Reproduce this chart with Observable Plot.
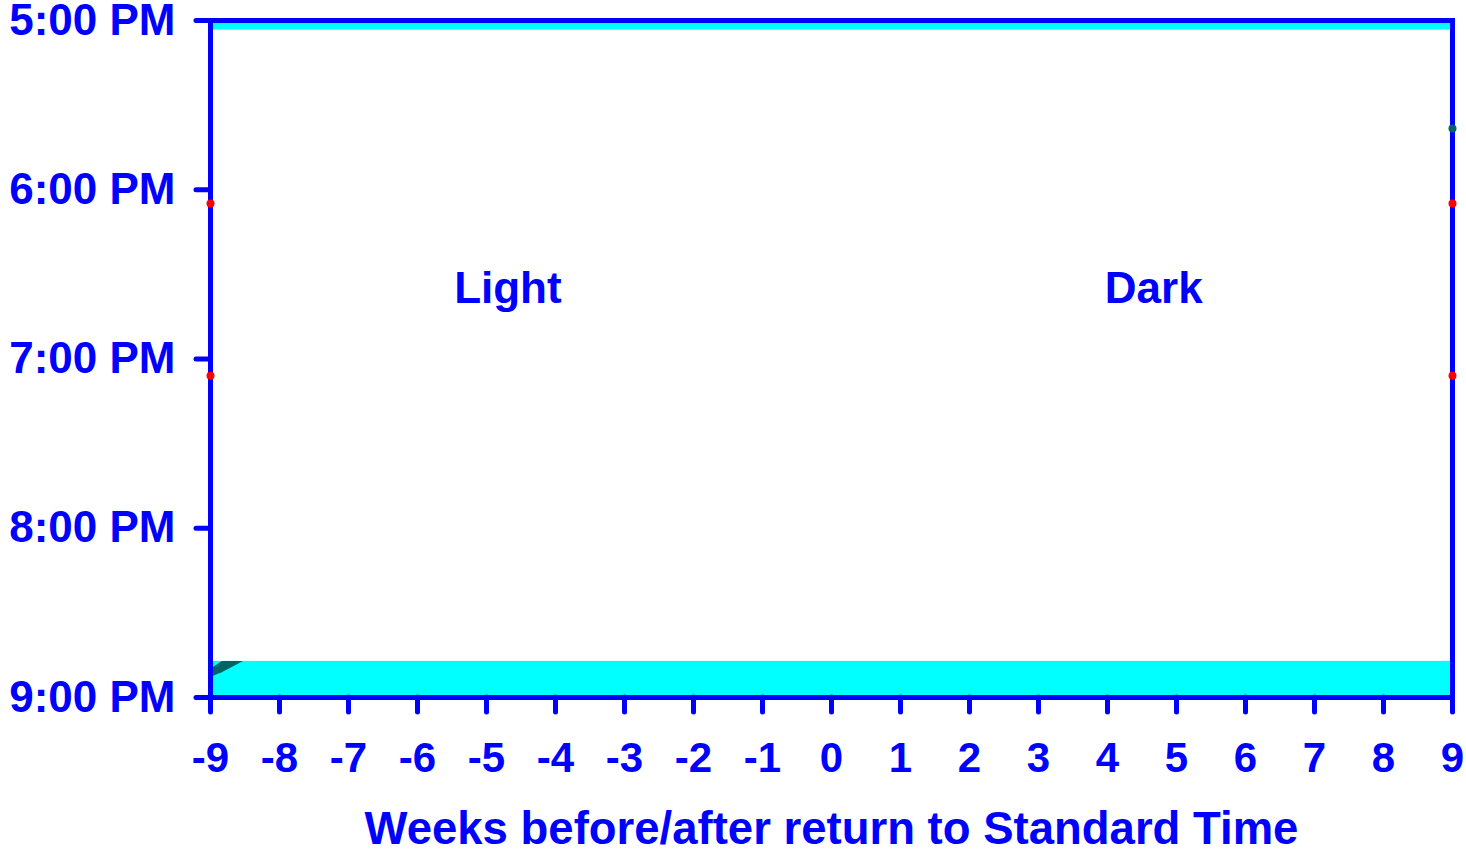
<!DOCTYPE html>
<html>
<head>
<meta charset="utf-8">
<script src="https://cdn.jsdelivr.net/npm/d3@7"></script>
<script src="https://cdn.jsdelivr.net/npm/@observablehq/plot@0.6"></script>
<style>
  html, body { margin: 0; padding: 0; background: #ffffff; }
  #chart { width: 1466px; height: 853px; }
</style>
</head>
<body>
<div id="chart"></div>
<script>
// ---- Data (y values are minutes after 5:00 PM) ----
const weekTicks = [-9, -8, -7, -6, -5, -4, -3, -2, -1, 0, 1, 2, 3, 4, 5, 6, 7, 8, 9];
const timeTicks = [0, 60, 120, 180, 240];
const timeTickLabels = ["5:00 PM", "6:00 PM", "7:00 PM", "8:00 PM", "9:00 PM"];

// cyan bands
const bandX1 = [-9, -9, 8.97];
const bandX2 = [9, 9, 9];
const bandY1 = [0, 227.2, 0];
const bandY2 = [3.4, 240, 240];

// dark teal line segment at lower left (upper and lower edge)
const segWeek = [-9, -8.83, -8.52];
const segTop = [230.1, 227.2, 227.2];
const segBottom = [232.9, 231.2, 227.2];

// edge markers
const markerWeek = [-9, -9, 9, 9, 9];
const markerTime = [64.9, 125.9, 64.9, 125.9, 38.3];
const markerKind = ["red", "red", "red", "red", "teal"];

// labels
const labelText = ["Light", "Dark"];
const labelWeek = [-4.69, 4.67];
const labelTime = [95.2, 95.2];

const BLUE = "#0000ff";
const CYAN = "#00ffff";
const TEAL = "#006464";
const RED = "#ff0000";
const FONT = "'Liberation Sans', Arial, Helvetica, sans-serif";

const bands = bandX1.map((d, i) => ({x1: d, x2: bandX2[i], y1: bandY1[i], y2: bandY2[i]}));
const seg = segWeek.map((d, i) => ({x: d, y1: segTop[i], y2: segBottom[i]}));
const markers = markerWeek.map((d, i) => ({x: d, y: markerTime[i], k: markerKind[i]}));
const labels = labelText.map((d, i) => ({t: d, x: labelWeek[i], y: labelTime[i]}));

const chart = Plot.plot({
  width: 1466,
  height: 853,
  marginLeft: 210,
  marginRight: 14,
  marginTop: 20,
  marginBottom: 156,
  style: {fontFamily: FONT, fontWeight: "bold", fontSize: "42px", color: BLUE, background: "#ffffff", overflow: "visible"},
  x: {domain: [-9, 9]},
  y: {domain: [240, 0]},
  marks: [
    Plot.rect(bands, {x1: "x1", x2: "x2", y1: "y1", y2: "y2", fill: CYAN}),
    Plot.areaY(seg, {x: "x", y1: "y1", y2: "y2", fill: TEAL}),
    Plot.frame({stroke: BLUE, strokeWidth: 5}),
    Plot.axisX({
      ticks: weekTicks, tickSize: 15, tickPadding: 30, label: null,
      color: BLUE, strokeWidth: 5, strokeLinecap: "round",
      fontSize: 42, fontWeight: "bold", tickFormat: d => String(d)
    }),
    Plot.axisY({
      ticks: timeTicks, tickSize: 14, tickPadding: 21, label: null,
      color: BLUE, strokeWidth: 5, strokeLinecap: "round",
      fontSize: 44, fontWeight: "bold",
      tickFormat: d => timeTickLabels[timeTicks.indexOf(d)]
    }),
    Plot.dot(markers, {x: "x", y: "y", r: 4, fill: d => d.k === "red" ? RED : TEAL, stroke: null}),
    Plot.text(labels, {x: "x", y: "y", text: "t", fill: BLUE, fontSize: 44, fontWeight: "bold"}),
    Plot.text(["Weeks before/after return to Standard Time"], {
      frameAnchor: "bottom", lineAnchor: "bottom", dy: 146,
      fill: BLUE, fontSize: 45.5, fontWeight: "bold"
    })
  ]
});
document.getElementById("chart").appendChild(chart);
</script>
</body>
</html>
